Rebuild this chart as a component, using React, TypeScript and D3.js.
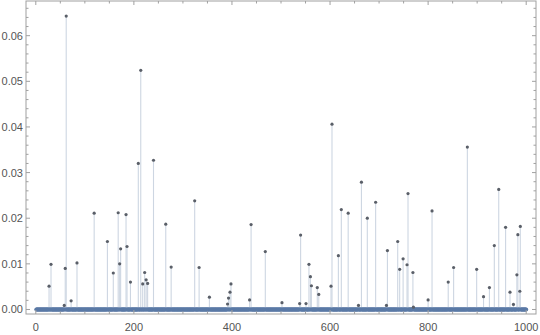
import React from "react";
import * as d3 from "d3";

const spikeX = [27, 31, 58, 60, 62, 72, 84, 119, 146, 158, 168, 171, 173, 184, 186, 193, 209, 214, 218, 222, 225, 228, 240, 265, 276, 324, 333, 354, 391, 393, 396, 398, 436, 439, 468, 502, 538, 540, 551, 557, 560, 562, 574, 577, 602, 604, 617, 623, 637, 658, 664, 676, 693, 715, 717, 738, 742, 749, 757, 759, 769, 770, 800, 808, 841, 852, 880, 899, 913, 925, 935, 944, 958, 967, 974, 981, 983, 987, 988];
const spikeY = [0.0051, 0.0099, 0.0009, 0.009, 0.0643, 0.0019, 0.0102, 0.0211, 0.0149, 0.008, 0.0212, 0.01, 0.0133, 0.0208, 0.0138, 0.006, 0.032, 0.0524, 0.0056, 0.0081, 0.0065, 0.0057, 0.0327, 0.0187, 0.0093, 0.0238, 0.0092, 0.0027, 0.0012, 0.0025, 0.0038, 0.0056, 0.0021, 0.0186, 0.0127, 0.0015, 0.0013, 0.0163, 0.0013, 0.0099, 0.0072, 0.0052, 0.0048, 0.0033, 0.0051, 0.0406, 0.0118, 0.0219, 0.0211, 0.0009, 0.0279, 0.02, 0.0235, 0.0009, 0.0129, 0.0149, 0.0088, 0.0111, 0.0098, 0.0254, 0.0081, 0.0005, 0.0021, 0.0216, 0.006, 0.0092, 0.0356, 0.0088, 0.0028, 0.0048, 0.014, 0.0263, 0.018, 0.0038, 0.0011, 0.0076, 0.0164, 0.004, 0.0182];
const N = 1000;
const xTicks = [0, 200, 400, 600, 800, 1000];
const yTicks = [0, 0.01, 0.02, 0.03, 0.04, 0.05, 0.06];

export default function App() {
  const W = 540, H = 335;
  const L = 26, R = 536, T = 1, B = 314;
  const x = d3.scaleLinear().domain([-20, 1020]).range([L, R]);
  const y = d3.scaleLinear().domain([-0.00099, 0.0676]).range([B, T]);
  const spikeSet = new Set(spikeX);
  const baseIdx = d3.range(1, N + 1).filter((i) => !spikeSet.has(i));
  const xMinor = d3.range(0, 1001, 50).filter((v) => v % 200 !== 0);
  const yMinor = d3.range(0, 68, 2).map((v) => v / 1000).filter((v) => Math.round(v * 1000) % 10 !== 0);
  const frame = "#a0a0a0";
  const font = "'Liberation Sans', Arial, sans-serif";
  return (
    <svg width={W} height={H} style={{ position: "absolute", left: 0, top: 0, background: "#fff" }}>
      {/* stems */}
      {spikeX.map((v, i) => (
        <line key={"s" + i} x1={x(v)} x2={x(v)} y1={y(0)} y2={y(spikeY[i])} stroke="#cdd6e2" strokeWidth={1.1} />
      ))}
      {/* baseline points */}
      {baseIdx.map((i) => (
        <circle key={"b" + i} cx={x(i)} cy={y(0)} r={2} fill="#5b7aa6" />
      ))}
      {/* spike points */}
      {spikeX.map((v, i) => (
        <circle key={"p" + i} cx={x(v)} cy={y(spikeY[i])} r={1.6} fill="#5a5f68" />
      ))}
      {/* frame */}
      <rect x={L} y={T} width={R - L} height={B - T} fill="none" stroke={frame} strokeWidth={1} />
      {/* x ticks */}
      {xTicks.map((t) => (
        <g key={"xt" + t}>
          <line x1={x(t)} x2={x(t)} y1={B} y2={B - 4} stroke={frame} />
          <line x1={x(t)} x2={x(t)} y1={T} y2={T + 4} stroke={frame} />
          <text x={x(t)} y={331} textAnchor="middle" fontSize={11} fill="#555" fontFamily={font}>{t}</text>
        </g>
      ))}
      {xMinor.map((t) => (
        <g key={"xm" + t}>
          <line x1={x(t)} x2={x(t)} y1={B} y2={B - 2.5} stroke={frame} />
          <line x1={x(t)} x2={x(t)} y1={T} y2={T + 2.5} stroke={frame} />
        </g>
      ))}
      {/* y ticks */}
      {yTicks.map((t) => (
        <g key={"yt" + t}>
          <line x1={L} x2={L + 4} y1={y(t)} y2={y(t)} stroke={frame} />
          <line x1={R} x2={R - 4} y1={y(t)} y2={y(t)} stroke={frame} />
          <text x={23} y={y(t) + 4} textAnchor="end" fontSize={11} fill="#555" fontFamily={font}>{t.toFixed(2)}</text>
        </g>
      ))}
      {yMinor.map((t) => (
        <g key={"ym" + t}>
          <line x1={L} x2={L + 2.5} y1={y(t)} y2={y(t)} stroke={frame} />
          <line x1={R} x2={R - 2.5} y1={y(t)} y2={y(t)} stroke={frame} />
        </g>
      ))}
    </svg>
  );
}
